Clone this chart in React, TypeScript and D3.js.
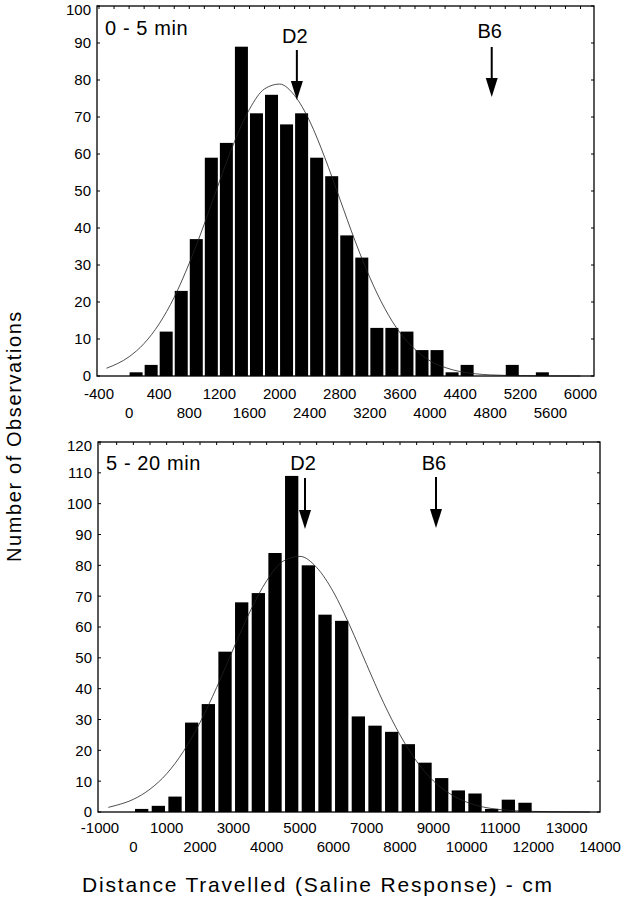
import React from "react";
import * as d3 from "d3";

// ---------- Data ----------
// Top panel: 0 - 5 min, bins of 200 cm starting at 0
const topBinStart = 0;
const topBinWidth = 200;
const topCounts = [1, 3, 12, 23, 37, 59, 63, 89, 71, 76, 68, 71, 59, 54, 38, 32, 13, 13, 12, 7, 7, 1, 3, 0, 0, 3, 0, 1];
const topCurveX = [-300, 0, 200, 400, 600, 800, 1000, 1200, 1400, 1600, 1800, 2000, 2200, 2400, 2600, 2800, 3000, 3200, 3400, 3600, 3800, 4000, 4200, 4400, 4600, 4800, 5200, 5600, 6000];
const topCurveY = [2.1, 5.2, 8.8, 14.1, 21.3, 30.5, 41.1, 52.5, 63.3, 72.1, 77.6, 78.9, 75.8, 68.9, 59.1, 47.9, 36.7, 26.6, 18.2, 11.7, 7.2, 4.1, 2.3, 1.2, 0.6, 0.3, 0.1, 0.02, 0];
const topTicksRow1 = [-400, 400, 1200, 2000, 2800, 3600, 4400, 5200, 6000];
const topTicksRow2 = [0, 800, 1600, 2400, 3200, 4000, 4800, 5600];
const topYTicks = [0, 10, 20, 30, 40, 50, 60, 70, 80, 90, 100];
const topLabel = "0 - 5 min";
const topMarkers = [
  { name: "D2", x: 2230 },
  { name: "B6", x: 4820 },
];

// Bottom panel: 5 - 20 min, bins of 500 cm starting at 0
const botBinStart = 0;
const botBinWidth = 500;
const botCounts = [1, 2, 5, 29, 35, 52, 68, 71, 84, 109, 80, 64, 62, 31, 28, 26, 22, 16, 11, 7, 6, 1, 4, 3];
const botCurveX = [-750, -500, 0, 500, 1000, 1500, 2000, 2500, 3000, 3500, 4000, 4500, 5000, 5500, 6000, 6500, 7000, 7500, 8000, 8500, 9000, 9500, 10000, 10500, 11000, 11500, 12000, 13000, 13700];
const botCurveY = [1.5, 2.2, 4.1, 7.4, 12.4, 19.6, 29.0, 40.4, 52.9, 65.0, 75.0, 81.4, 82.9, 79.3, 71.4, 60.3, 47.8, 35.6, 25.0, 16.4, 10.1, 5.9, 3.2, 1.6, 0.8, 0.4, 0.2, 0.05, 0];
const botTicksRow1 = [-1000, 1000, 3000, 5000, 7000, 9000, 11000, 13000];
const botTicksRow2 = [0, 2000, 4000, 6000, 8000, 10000, 12000, 14000];
const botYTicks = [0, 10, 20, 30, 40, 50, 60, 70, 80, 90, 100, 110, 120];
const botLabel = "5 - 20 min";
const botMarkers = [
  { name: "D2", x: 5150 },
  { name: "B6", x: 9080 },
];

const yTitle = "Number of Observations";
const xTitle = "Distance Travelled (Saline Response) - cm";

const FONT = "'Liberation Sans', Arial, Helvetica, sans-serif";

type Marker = { name: string; x: number };
type MarkerLayout = { textBase: number; arrowTop: number; arrowTip: number };

type PanelProps = {
  counts: number[];
  binStart: number;
  binWidth: number;
  curveX: number[];
  curveY: number[];
  row1: number[];
  row2: number[];
  yTicks: number[];
  label: string;
  labelBase: number;
  markers: Marker[];
  markerLayout: MarkerLayout[];
  xDomain: [number, number];
  xRange: [number, number];
  yMax: number;
  frame: { x0: number; x1: number; y0: number; y1: number };
  barInset: number;
  barW: number;
  topMinor: number;
  row1Base: number;
  row2Base: number;
};

function Panel(p: PanelProps) {
  const x = d3.scaleLinear().domain(p.xDomain).range(p.xRange);
  const y = d3.scaleLinear().domain([0, p.yMax]).range([p.frame.y1, p.frame.y0]);
  const line = d3
    .line<number>()
    .x((_, i) => x(p.curveX[i]))
    .y((d) => y(d))
    .curve(d3.curveMonotoneX);
  const f = p.frame;
  const invX = x.invert(f.x1);
  const minorTop = d3.range(Math.ceil(p.xDomain[0] / p.topMinor) * p.topMinor, invX, p.topMinor);
  return (
    <g>
      {p.counts.map((c, i) => {
        const b = p.binStart + i * p.binWidth;
        if (c <= 0) return null;
        return <rect key={i} x={x(b) + p.barInset} width={p.barW} y={y(c)} height={y(0) - y(c)} fill="#000" />;
      })}
      <path d={line(p.curveY) || ""} fill="none" stroke="#222" strokeWidth={0.8} />
      <rect x={f.x0} y={f.y0} width={f.x1 - f.x0} height={f.y1 - f.y0} fill="none" stroke="#000" strokeWidth={1.3} />
      {minorTop.map((v, i) => (
        <line key={"tm" + i} x1={x(v)} x2={x(v)} y1={f.y0} y2={f.y0 + 3} stroke="#000" strokeWidth={1} />
      ))}
      {p.yTicks.map((v, i) => (
        <g key={"yt" + i}>
          <line x1={f.x1} x2={f.x1 - 3} y1={y(v)} y2={y(v)} stroke="#000" strokeWidth={1} />
          <line x1={f.x0} x2={f.x0 + 3} y1={y(v)} y2={y(v)} stroke="#000" strokeWidth={1} />
          <text x={f.x0 - 6} y={Math.max(y(v), f.y0 + 4)} dy="0.36em" textAnchor="end" fontSize={15} fontFamily={FONT}>
            {v}
          </text>
        </g>
      ))}
      {p.row1.map((v, i) => (
        <text key={"r1" + i} x={x(v)} y={p.row1Base} textAnchor="middle" fontSize={15} fontFamily={FONT}>
          {v}
        </text>
      ))}
      {p.row2.map((v, i) => (
        <text key={"r2" + i} x={x(v)} y={p.row2Base} textAnchor="middle" fontSize={15} fontFamily={FONT}>
          {v}
        </text>
      ))}
      <text x={f.x0 + 8} y={p.labelBase} fontSize={20} letterSpacing={0.6} fontFamily={FONT}>
        {p.label}
      </text>
      {p.markers.map((m, i) => {
        const mx = x(m.x);
        const L = p.markerLayout[i];
        return (
          <g key={"mk" + i}>
            <text x={mx - 2} y={L.textBase} textAnchor="middle" fontSize={20} fontFamily={FONT}>
              {m.name}
            </text>
            <line x1={mx} x2={mx} y1={L.arrowTop} y2={L.arrowTip - 14} stroke="#000" strokeWidth={2} />
            <path d={`M${mx - 6},${L.arrowTip - 19} L${mx + 6},${L.arrowTip - 19} L${mx},${L.arrowTip} Z`} fill="#000" />
          </g>
        );
      })}
    </g>
  );
}

export default function App() {
  return (
    <svg width={628} height={900} style={{ position: "absolute", left: 0, top: 0, display: "block", background: "#fff" }}>
      <Panel
        counts={topCounts}
        binStart={topBinStart}
        binWidth={topBinWidth}
        curveX={topCurveX}
        curveY={topCurveY}
        row1={topTicksRow1}
        row2={topTicksRow2}
        yTicks={topYTicks}
        label={topLabel}
        labelBase={35}
        markers={topMarkers}
        markerLayout={[
          { textBase: 43, arrowTop: 50, arrowTip: 100 },
          { textBase: 38, arrowTop: 47, arrowTip: 97 },
        ]}
        xDomain={[-400, 6000]}
        xRange={[99, 580.5]}
        yMax={100}
        frame={{ x0: 97, x1: 594, y0: 6, y1: 376 }}
        barInset={0.5}
        barW={13}
        topMinor={200}
        row1Base={399}
        row2Base={418}
      />
      <Panel
        counts={botCounts}
        binStart={botBinStart}
        binWidth={botBinWidth}
        curveX={botCurveX}
        curveY={botCurveY}
        row1={botTicksRow1}
        row2={botTicksRow2}
        yTicks={botYTicks}
        label={botLabel}
        labelBase={470}
        markers={botMarkers}
        markerLayout={[
          { textBase: 470, arrowTop: 478, arrowTip: 529 },
          { textBase: 470, arrowTop: 477, arrowTip: 528 },
        ]}
        xDomain={[-1000, 14000]}
        xRange={[100, 600]}
        yMax={120}
        frame={{ x0: 98, x1: 600, y0: 442, y1: 812 }}
        barInset={1.7}
        barW={13.3}
        topMinor={500}
        row1Base={833}
        row2Base={852}
      />
      <text
        transform="translate(21,436) rotate(-90)"
        textAnchor="middle"
        fontSize={20}
        letterSpacing={1.6}
        fontFamily={FONT}
      >
        {yTitle}
      </text>
      <text x={318} y={892} textAnchor="middle" fontSize={21} letterSpacing={1.8} fontFamily={FONT}>
        {xTitle}
      </text>
    </svg>
  );
}
